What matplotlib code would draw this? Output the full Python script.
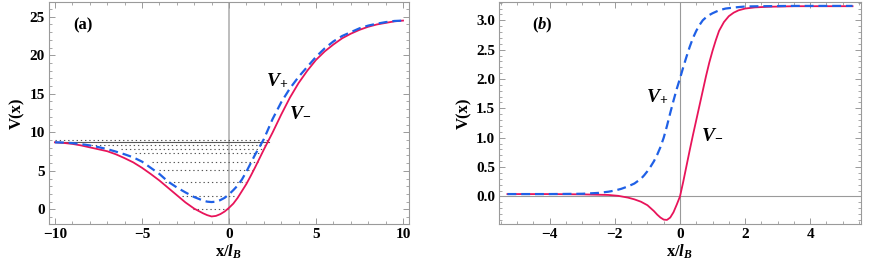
import numpy as np
import matplotlib
matplotlib.use("Agg")
import matplotlib.pyplot as plt
from matplotlib.ticker import MultipleLocator, FormatStrFormatter

plt.rcParams['font.family'] = ['Liberation Serif', 'DejaVu Serif']
plt.rcParams['font.weight'] = 'bold'
plt.rcParams['mathtext.fontset'] = 'custom'
plt.rcParams['mathtext.rm'] = 'Liberation Serif:bold'
plt.rcParams['mathtext.bf'] = 'Liberation Serif:bold'
plt.rcParams['mathtext.it'] = 'Liberation Serif:italic:bold'
plt.rcParams['mathtext.bfit'] = 'Liberation Serif:italic:bold'

# panel (a): potentials
xa = [-10, -9.5, -9, -8.5, -8, -7.5, -7, -6.5, -6, -5.5, -5, -4.5, -4, -3.5, -3, -2.5, -2,
      -1.5, -1.25, -1, -0.75, -0.5, -0.25, 0, 0.25, 0.5, 0.75, 1, 1.25, 1.5, 1.75, 2, 2.25,
      2.5, 3, 3.5, 4, 4.5, 5, 5.5, 6, 6.5, 7, 7.5, 8, 8.5, 9, 9.5, 10]
va_minus = [8.7, 8.62, 8.5, 8.3, 8.05, 7.8, 7.55, 7.15, 6.65, 6.1, 5.4, 4.6, 3.75, 2.8, 1.85, 0.9, 0.1,
            -0.5, -0.75, -0.92, -0.85, -0.62, -0.28, 0.2, 0.75, 1.5, 2.4, 3.3, 4.35, 5.45, 6.6, 7.75, 8.85,
            9.95, 12.3, 14.5, 16.4, 18.0, 19.4, 20.5, 21.4, 22.2, 22.8, 23.3, 23.7, 24.0, 24.2, 24.4, 24.5]
va_plus = [8.7, 8.67, 8.6, 8.47, 8.3, 8.08, 7.82, 7.5, 7.15, 6.75, 6.2, 5.4, 4.6, 3.6, 2.85, 2.2, 1.6,
           1.15, 1.0, 0.95, 1.0, 1.2, 1.5, 1.95, 2.5, 3.1, 3.9, 4.9, 6.0, 7.1, 8.1, 9.1, 10.4,
           11.7, 13.9, 15.7, 17.2, 18.5, 19.8, 20.9, 21.8, 22.5, 23.0, 23.5, 23.85, 24.1, 24.3, 24.45, 24.5]

# energy levels (dotted) with their x extents
lev_e = [0.0, 1.8, 3.5, 5.05, 6.2, 7.35, 7.8, 8.35, 9.0]
lev_x0 = [-2.05, -2.72, -3.68, -4.0, -4.4, -5.4, -6.2, -7.9, -10]
lev_x1 = [-0.05, 0.44, 1.0, 1.4, 1.65, 1.8, 1.97, 2.15, 2.36]
top_level = 8.72
top_x = [-10, 2.3]

# panel (b)
xb_plus = [-5.3, -4, -3, -2.5, -2.2, -2.0, -1.8, -1.6, -1.4, -1.2, -1.1, -1.0, -0.9, -0.8, -0.7,
           -0.6, -0.5, -0.4, -0.3, -0.2, -0.1, 0, 0.1, 0.2, 0.3, 0.4, 0.5, 0.6, 0.7, 0.8, 0.9,
           1.0, 1.2, 1.4, 1.7, 2.0, 2.5, 3.5, 5.3]
vb_plus = [0.04, 0.04, 0.045, 0.06, 0.08, 0.1, 0.13, 0.17, 0.22, 0.3, 0.36, 0.43, 0.51, 0.6, 0.71,
           0.84, 1.0, 1.2, 1.42, 1.63, 1.83, 2.01, 2.2, 2.38, 2.55, 2.7, 2.82, 2.92, 3.0, 3.05, 3.09,
           3.12, 3.17, 3.2, 3.22, 3.235, 3.24, 3.245, 3.245]
xb_minus = [-5.3, -4, -3, -2.2, -1.9, -1.6, -1.4, -1.2, -1.0, -0.9, -0.8, -0.7, -0.6, -0.5, -0.4,
            -0.3, -0.2, -0.1, 0, 0.1, 0.2, 0.3, 0.4, 0.5, 0.6, 0.7, 0.8, 0.9, 1.0, 1.1, 1.2,
            1.35, 1.5, 1.65, 1.8, 2.0, 2.3, 2.7, 3.5, 5.3]
vb_minus = [0.04, 0.04, 0.035, 0.025, 0.01, -0.02, -0.05, -0.09, -0.15, -0.2, -0.25, -0.31, -0.36, -0.395, -0.40,
            -0.36, -0.27, -0.14, 0.0, 0.25, 0.52, 0.79, 1.05, 1.3, 1.55, 1.8, 2.05, 2.28, 2.48, 2.66, 2.82,
            2.97, 3.07, 3.13, 3.17, 3.2, 3.22, 3.23, 3.24, 3.24]

red = '#e8145a'
blue = '#1f60e6'
frame = '#9a9a9a'

fig = plt.figure(figsize=(8.72, 2.62), dpi=100)
ax1 = fig.add_axes([0.0562, 0.145, 0.4128, 0.847])
ax2 = fig.add_axes([0.5726, 0.145, 0.4144, 0.847])

for ax in (ax1, ax2):
    for s in ax.spines.values():
        s.set_color(frame)
        s.set_linewidth(0.8)
    ax.tick_params(which='both', direction='in', top=True, right=True,
                   color=frame, labelsize=11, pad=3)
    ax.tick_params(which='major', length=4, width=0.7)
    ax.tick_params(which='minor', length=2, width=0.6)

# (a)
ax1.axvline(0, color='#bdbdbd', lw=1.4, zorder=1)
for e, a, b in zip(lev_e, lev_x0, lev_x1):
    ax1.plot([a, b], [e, e], color='#555555', lw=0.8, ls=(0, (1.2, 2.6)), zorder=2)
ax1.plot(top_x, [top_level, top_level], color='#555555', lw=0.8, zorder=2)
ax1.plot(xa, va_minus, color=red, lw=1.3, zorder=3)
ax1.plot(xa, va_plus, color=blue, lw=1.6, ls=(0, (4, 2.2)), zorder=4)
ax1.set_xlim(-10.34, 10.34)
ax1.set_ylim(-1.9, 26.9)
ax1.xaxis.set_major_locator(MultipleLocator(5))
ax1.xaxis.set_minor_locator(MultipleLocator(1))
ax1.yaxis.set_major_locator(MultipleLocator(5))
ax1.yaxis.set_minor_locator(MultipleLocator(1))
ax1.text(-8.4, 23.9, '(a)', fontsize=12, fontweight='bold', ha='center', va='center')
ax1.text(2.74, 16.7, r'$\mathbfit{V}_{\mathbf{+}}$', fontsize=14, ha='center', va='center')
ax1.text(4.1, 12.6, r'$\mathbfit{V}_{\mathbf{-}}$', fontsize=14, ha='center', va='center')
ax1.set_ylabel('V(x)', fontsize=12, fontweight='bold', labelpad=3)
ax1.set_xlabel(r'$\mathbf{x/}\mathbfit{l}_{\mathbfit{B}}$', fontsize=12, labelpad=1)

# (b)
ax2.axvline(0, color='#9a9a9a', lw=0.8, zorder=1)
ax2.axhline(0, color='#9a9a9a', lw=0.8, zorder=1)
ax2.plot(xb_minus, vb_minus, color=red, lw=1.3, zorder=3)
ax2.plot(xb_plus, vb_plus, color=blue, lw=1.6, ls=(0, (4, 2.2)), zorder=4)
ax2.set_xlim(-5.55, 5.55)
ax2.set_ylim(-0.47, 3.31)
ax2.xaxis.set_major_locator(MultipleLocator(2))
ax2.xaxis.set_minor_locator(MultipleLocator(0.5))
ax2.yaxis.set_major_locator(MultipleLocator(0.5))
ax2.yaxis.set_minor_locator(MultipleLocator(0.1))
ax2.yaxis.set_major_formatter(FormatStrFormatter('%.1f'))
ax2.text(-4.22, 2.92, r'($\mathbfit{b}$)', fontsize=12, fontweight='bold', ha='center', va='center')
ax2.text(-0.69, 1.70, r'$\mathbfit{V}_{\mathbf{+}}$', fontsize=14, ha='center', va='center')
ax2.text(1.0, 1.05, r'$\mathbfit{V}_{\mathbf{-}}$', fontsize=14, ha='center', va='center')
ax2.set_ylabel('V(x)', fontsize=12, fontweight='bold', labelpad=3)
ax2.set_xlabel(r'$\mathbf{x/}\mathbfit{l}_{\mathbfit{B}}$', fontsize=12, labelpad=1)

for ax in (ax1, ax2):
    for lab in ax.get_xticklabels() + ax.get_yticklabels():
        lab.set_fontweight('bold')

fig.savefig('out.png', dpi=100)
